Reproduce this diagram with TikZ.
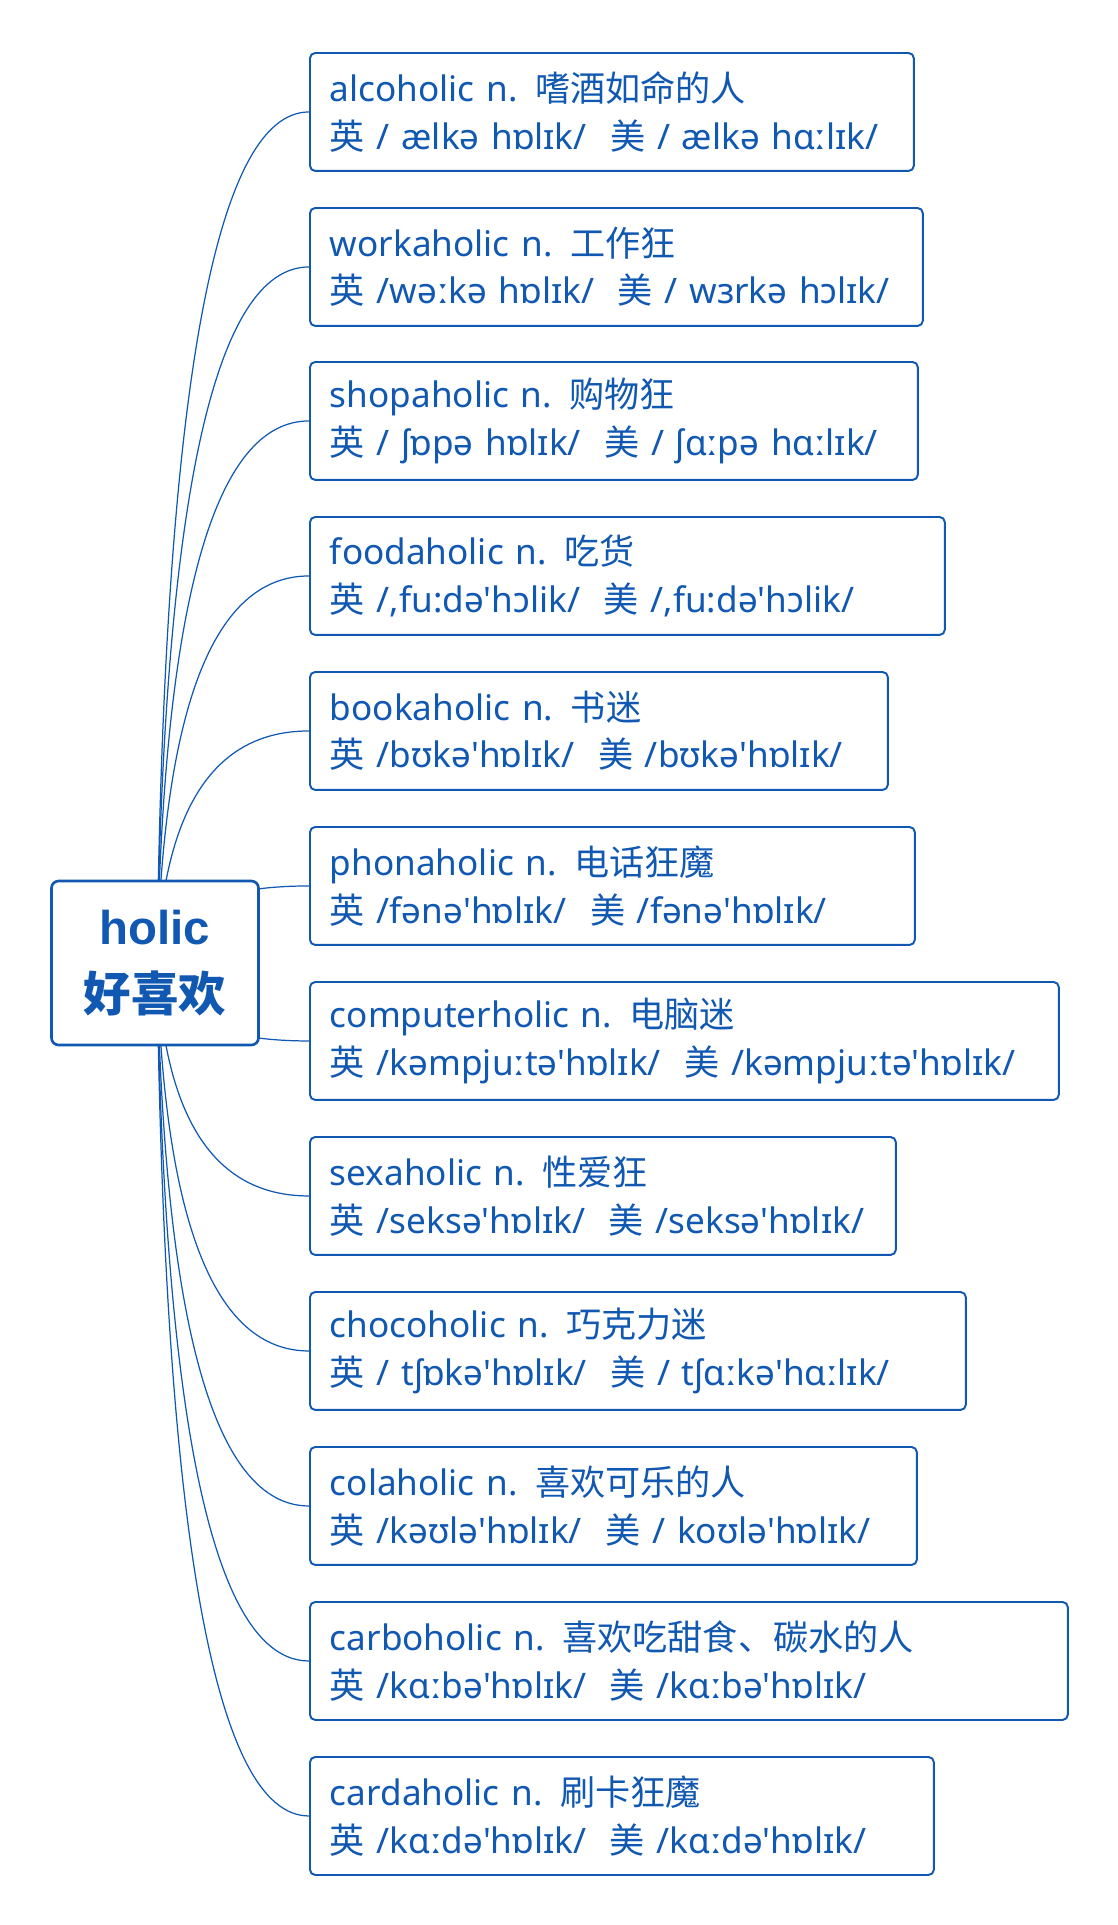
\documentclass[tikz,border=0pt]{standalone}
\usepackage{fontspec}
\setmainfont{Noto Sans}[Ligatures=TeXOff]
\newfontfamily\cjk{Noto Sans CJK SC}
\newfontfamily\rootfont{Liberation Sans}
\usetikzlibrary{calc,backgrounds}
\definecolor{holicblue}{RGB}{16,88,178}
\tikzset{
  root/.style={draw=holicblue, line width=1.5pt, rounded corners=4pt, fill=white, text=holicblue,
    minimum width=4.14cm, minimum height=3.28cm, align=center,
    font=\fontsize{27}{38}\selectfont\bfseries},
  word/.style={draw=holicblue, line width=1.1pt, rounded corners=3pt, fill=white, text=holicblue,
    anchor=north west, minimum height=2.36cm, inner xsep=0.4cm, align=left,
    font=\fontsize{20}{27}\selectfont},
  branch/.style={draw=holicblue, line width=0.7pt},
}

\begin{document}
\begin{tikzpicture}[x=0.02cm, y=-0.02cm]
                    \useasboundingbox (0,0) rectangle (1117,1925);
                    \node[root] (holic) at (155,963) {{\rootfont\bfseries holic}\\{\cjk\bfseries 好喜欢}};
                    \node[word, text width=11.28cm] (alcoholic) at (309,52) {alcoholic n. {\cjk 嗜酒如命的人}\\{\cjk 英} / ælkə hɒlɪk/~ {\cjk 美} / ælkə hɑːlɪk/};
                    \node[word, text width=11.46cm] (workaholic) at (309,207) {workaholic n. {\cjk 工作狂}\\{\cjk 英} /wəːkə hɒlɪk/~ {\cjk 美} / wɜrkə hɔlɪk/};
                    \node[word, text width=11.36cm] (shopaholic) at (309,361) {shopaholic n. {\cjk 购物狂}\\{\cjk 英} / ʃɒpə hɒlɪk/~ {\cjk 美} / ʃɑːpə hɑːlɪk/};
                    \node[word, text width=11.90cm] (foodaholic) at (309,516) {foodaholic n. {\cjk 吃货}\\{\cjk 英} /,fu:də'hɔlik/~ {\cjk 美} /,fu:də'hɔlik/};
                    \node[word, text width=10.76cm] (bookaholic) at (309,671) {bookaholic n. {\cjk 书迷}\\{\cjk 英} /bʊkə'hɒlɪk/~ {\cjk 美} /bʊkə'hɒlɪk/};
                    \node[word, text width=11.30cm] (phonaholic) at (309,826) {phonaholic n. {\cjk 电话狂魔}\\{\cjk 英} /fənə'hɒlɪk/~ {\cjk 美} /fənə'hɒlɪk/};
                    \node[word, text width=14.18cm] (computerholic) at (309,981) {computerholic n. {\cjk 电脑迷}\\{\cjk 英} /kəmpjuːtə'hɒlɪk/~ {\cjk 美} /kəmpjuːtə'hɒlɪk/};
                    \node[word, text width=10.92cm] (sexaholic) at (309,1136) {sexaholic n. {\cjk 性爱狂}\\{\cjk 英} /seksə'hɒlɪk/~ {\cjk 美} /seksə'hɒlɪk/};
                    \node[word, text width=12.32cm] (chocoholic) at (309,1291) {chocoholic n. {\cjk 巧克力迷}\\{\cjk 英} / tʃɒkə'hɒlɪk/~ {\cjk 美} / tʃɑːkə'hɑːlɪk/};
                    \node[word, text width=11.34cm] (colaholic) at (309,1446) {colaholic n. {\cjk 喜欢可乐的人}\\{\cjk 英} /kəʊlə'hɒlɪk/~ {\cjk 美} / koʊlə'hɒlɪk/};
                    \node[word, text width=14.36cm] (carboholic) at (309,1601) {carboholic n. {\cjk 喜欢吃甜食、碳水的人}\\{\cjk 英} /kɑːbə'hɒlɪk/~ {\cjk 美} /kɑːbə'hɒlɪk/};
                    \node[word, text width=11.68cm] (cardaholic) at (309,1756) {cardaholic n. {\cjk 刷卡狂魔}\\{\cjk 英} /kɑːdə'hɒlɪk/~ {\cjk 美} /kɑːdə'hɒlɪk/};
                    \begin{scope}[on background layer]
                    \fill[white] (0,0) rectangle (1117,1925);
                    \foreach \w in {alcoholic,workaholic,shopaholic,foodaholic,bookaholic,phonaholic,computerholic,sexaholic,chocoholic,colaholic,carboholic,cardaholic} {
                        \coordinate (s) at ($(holic.center)+(2,0)$);
                        \coordinate (c) at ($(holic.center |- \w.west)+(12,0)$);
                        \draw[branch] (s) .. controls ($(s)!0.667!(c)$) and ($(\w.west)!0.667!(c)$) .. (\w.west);
                    }
                    \end{scope}
                \end{tikzpicture}
\end{document}
